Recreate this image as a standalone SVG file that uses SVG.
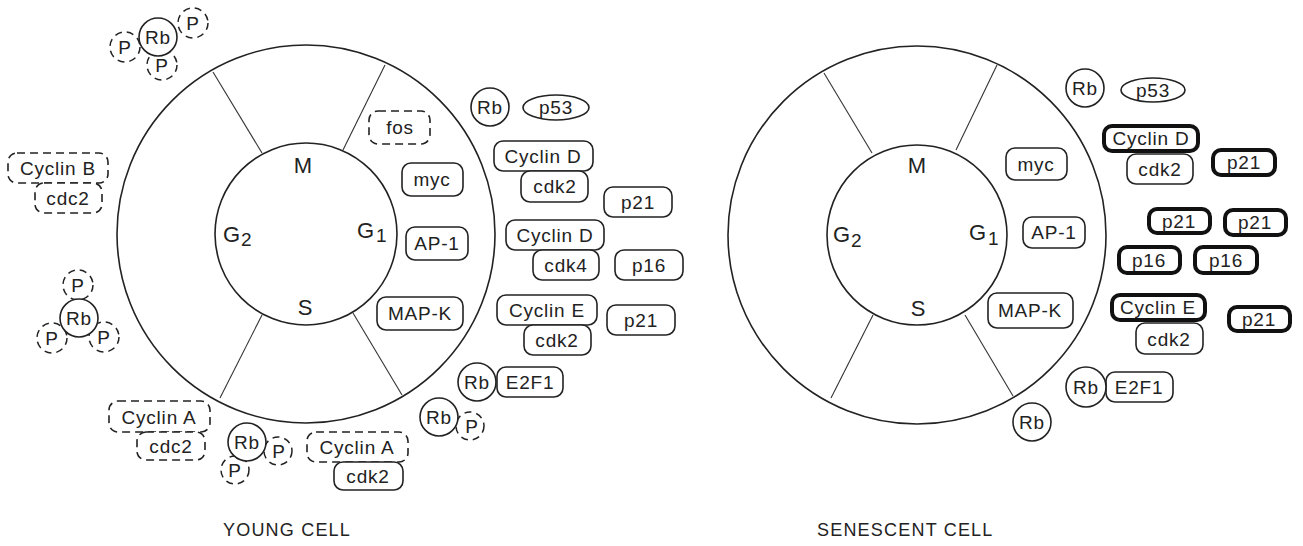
<svg xmlns="http://www.w3.org/2000/svg" width="1303" height="546" viewBox="0 0 1303 546">
<style>
text{font-family:"Liberation Sans",Arial,sans-serif;fill:#222}
.lbl{font-size:19px;letter-spacing:0.8px;text-anchor:middle}
.ph{font-size:22px}
.sub{font-size:19px}
.ttl{font-size:18px;letter-spacing:1.2px}
.ring{fill:none;stroke:#222;stroke-width:1.6}
.spk{stroke:#333;stroke-width:1.1}
.box{fill:#fff;stroke:#222;stroke-width:1.6}
.dash{fill:#fff;stroke:#222;stroke-width:1.6;stroke-dasharray:8 5}
.thick{fill:#fff;stroke:#111;stroke-width:4}
.pc{fill:#fff;stroke:#222;stroke-width:1.5;stroke-dasharray:7 5}
</style>
<rect width="1303" height="546" fill="#fff"/>

<g id="young-wheel">
<circle class="ring" cx="306" cy="234" r="189"/>
<circle class="ring" cx="306" cy="234" r="91"/>
<line class="spk" x1="213" y1="72" x2="262" y2="153"/>
<line class="spk" x1="385" y1="65" x2="343" y2="150"/>
<line class="spk" x1="262" y1="315" x2="220" y2="398"/>
<line class="spk" x1="353" y1="313" x2="402" y2="395"/>
<text class="ph" x="303" y="173" text-anchor="middle">M</text>
<text class="ph" x="223" y="242">G<tspan class="sub" x="241" y="246">2</tspan></text>
<text class="ph" x="357" y="238">G<tspan class="sub" x="376" y="242">1</tspan></text>
<text class="ph" x="305" y="315" text-anchor="middle">S</text>
</g>

<g id="senescent-wheel">
<circle class="ring" cx="917" cy="235" r="189"/>
<circle class="ring" cx="917" cy="235" r="90"/>
<line class="spk" x1="824" y1="73" x2="872" y2="153"/>
<line class="spk" x1="997" y1="65" x2="956" y2="150"/>
<line class="spk" x1="873" y1="315" x2="831" y2="398"/>
<line class="spk" x1="965" y1="315" x2="1013" y2="396"/>
<text class="ph" x="917" y="173" text-anchor="middle">M</text>
<text class="ph" x="833" y="242">G<tspan class="sub" x="851" y="247">2</tspan></text>
<text class="ph" x="969" y="240">G<tspan class="sub" x="988" y="245">1</tspan></text>
<text class="ph" x="918" y="316" text-anchor="middle">S</text>
</g>

<g id="connectors"></g>

<!-- Young cell nodes -->
<g id="y-rb-ppp-top">
<circle class="pc" cx="125" cy="47" r="15"/><text class="lbl" x="125" y="54">P</text>
<circle class="pc" cx="193" cy="23" r="15"/><text class="lbl" x="193" y="30">P</text>
<circle class="pc" cx="162" cy="65" r="15"/><text class="lbl" x="162" y="72">P</text>
<circle class="box" cx="158" cy="37" r="19"/><text class="lbl" x="158" y="44">Rb</text>
</g>
<g id="y-cyclinB"><rect class="dash" x="8" y="153" width="100" height="30" rx="9"/><text class="lbl" x="58" y="175">Cyclin B</text></g>
<g id="y-cdc2-b"><rect class="dash" x="35" y="183" width="67" height="30" rx="9"/><text class="lbl" x="68" y="205">cdc2</text></g>
<g id="y-rb-ppp-left">
<circle class="pc" cx="78" cy="285" r="15"/><text class="lbl" x="78" y="292">P</text>
<circle class="pc" cx="52" cy="338" r="15"/><text class="lbl" x="52" y="345">P</text>
<circle class="pc" cx="104" cy="337" r="15"/><text class="lbl" x="104" y="344">P</text>
<circle class="box" cx="79" cy="318" r="19"/><text class="lbl" x="79" y="325">Rb</text>
</g>
<g id="y-cyclinA-left"><rect class="dash" x="109" y="401" width="101" height="31" rx="9"/><text class="lbl" x="159" y="424">Cyclin A</text></g>
<g id="y-cdc2-a"><rect class="dash" x="137" y="432" width="68" height="28" rx="9"/><text class="lbl" x="171" y="453">cdc2</text></g>
<g id="y-rb-pp-bottom">
<circle class="pc" cx="278" cy="451" r="14"/><text class="lbl" x="279" y="458">P</text>
<circle class="pc" cx="235" cy="470" r="14"/><text class="lbl" x="235" y="477">P</text>
<circle class="box" cx="247" cy="442" r="19"/><text class="lbl" x="247" y="449">Rb</text>
</g>
<g id="y-cyclinA-right"><rect class="dash" x="307" y="432" width="101" height="30" rx="9"/><text class="lbl" x="357" y="454">Cyclin A</text></g>
<g id="y-cdk2-a"><rect class="box" x="334" y="462" width="69" height="28" rx="9"/><text class="lbl" x="368" y="483">cdk2</text></g>
<g id="y-fos"><rect class="dash" x="369" y="111" width="61" height="33" rx="9"/><text class="lbl" x="400" y="134">fos</text></g>
<g id="y-myc"><rect class="box" x="402" y="163" width="61" height="33" rx="9"/><text class="lbl" x="432" y="186">myc</text></g>
<g id="y-ap1"><rect class="box" x="406" y="227" width="62" height="33" rx="9"/><text class="lbl" x="437" y="250">AP-1</text></g>
<g id="y-mapk"><rect class="box" x="377" y="297" width="86" height="33" rx="9"/><text class="lbl" x="420" y="320">MAP-K</text></g>
<g id="y-rb1"><circle class="box" cx="490" cy="107" r="19"/><text class="lbl" x="490" y="114">Rb</text></g>
<g id="y-p53"><ellipse class="box" cx="556" cy="107.5" rx="33" ry="12.5"/><text class="lbl" x="556" y="114">p53</text></g>
<g id="y-cyclinD1"><rect class="box" x="494" y="141" width="99" height="30" rx="9"/><text class="lbl" x="543" y="163">Cyclin D</text></g>
<g id="y-cdk2-d"><rect class="box" x="521" y="171" width="67" height="31" rx="9"/><text class="lbl" x="555" y="193">cdk2</text></g>
<g id="y-p21-1"><rect class="box" x="604" y="187" width="68" height="30" rx="9"/><text class="lbl" x="638" y="209">p21</text></g>
<g id="y-cyclinD2"><rect class="box" x="506" y="220" width="98" height="30" rx="9"/><text class="lbl" x="555" y="242">Cyclin D</text></g>
<g id="y-cdk4"><rect class="box" x="533" y="250" width="66" height="30" rx="9"/><text class="lbl" x="566" y="272">cdk4</text></g>
<g id="y-p16"><rect class="box" x="615" y="250" width="68" height="30" rx="9"/><text class="lbl" x="649" y="272">p16</text></g>
<g id="y-cyclinE"><rect class="box" x="497" y="295" width="100" height="30" rx="9"/><text class="lbl" x="547" y="317">Cyclin E</text></g>
<g id="y-cdk2-e"><rect class="box" x="524" y="325" width="67" height="30" rx="9"/><text class="lbl" x="557" y="347">cdk2</text></g>
<g id="y-p21-2"><rect class="box" x="607" y="305" width="68" height="30" rx="9"/><text class="lbl" x="641" y="327">p21</text></g>
<g id="y-e2f1"><rect class="box" x="497" y="367" width="66" height="30" rx="9"/><text class="lbl" x="530" y="389">E2F1</text></g>
<g id="y-rb-e2f1"><circle class="box" cx="477" cy="382" r="19"/><text class="lbl" x="477" y="389">Rb</text></g>
<g id="y-rb-p">
<circle class="pc" cx="470" cy="426" r="14"/><text class="lbl" x="472" y="433">P</text>
<circle class="box" cx="439" cy="417" r="19"/><text class="lbl" x="439" y="424">Rb</text>
</g>

<!-- Senescent cell nodes -->
<g id="s-myc"><rect class="box" x="1006" y="148" width="61" height="32" rx="9"/><text class="lbl" x="1036" y="171">myc</text></g>
<g id="s-ap1"><rect class="box" x="1023" y="217" width="62" height="31" rx="9"/><text class="lbl" x="1054" y="239">AP-1</text></g>
<g id="s-mapk"><rect class="box" x="988" y="293" width="85" height="35" rx="9"/><text class="lbl" x="1030" y="317">MAP-K</text></g>
<g id="s-rb1"><circle class="box" cx="1085" cy="88" r="19"/><text class="lbl" x="1085" y="95">Rb</text></g>
<g id="s-p53"><ellipse class="box" cx="1153" cy="90" rx="32" ry="12"/><text class="lbl" x="1153" y="97">p53</text></g>
<g id="s-cdk2-d"><rect class="box" x="1127" y="154" width="66" height="30" rx="9"/><text class="lbl" x="1160" y="176">cdk2</text></g>
<g id="s-cyclinD"><rect class="thick" x="1104" y="126" width="94" height="25" rx="8"/><text class="lbl" x="1151" y="145">Cyclin D</text></g>
<g id="s-p21-1"><rect class="thick" x="1213" y="150" width="62" height="25" rx="8"/><text class="lbl" x="1244" y="169">p21</text></g>
<g id="s-p21-2"><rect class="thick" x="1149" y="209" width="61" height="24" rx="8"/><text class="lbl" x="1179" y="228">p21</text></g>
<g id="s-p21-3"><rect class="thick" x="1225" y="210" width="61" height="25" rx="8"/><text class="lbl" x="1255" y="229">p21</text></g>
<g id="s-p16-1"><rect class="thick" x="1119" y="247" width="61" height="26" rx="8"/><text class="lbl" x="1149" y="267">p16</text></g>
<g id="s-p16-2"><rect class="thick" x="1195" y="247" width="62" height="26" rx="8"/><text class="lbl" x="1226" y="267">p16</text></g>
<g id="s-cdk2-e"><rect class="box" x="1136" y="323" width="67" height="31" rx="9"/><text class="lbl" x="1169" y="346">cdk2</text></g>
<g id="s-cyclinE"><rect class="thick" x="1112" y="295" width="93" height="25" rx="8"/><text class="lbl" x="1158" y="314">Cyclin E</text></g>
<g id="s-p21-4"><rect class="thick" x="1229" y="307" width="61" height="24" rx="8"/><text class="lbl" x="1259" y="326">p21</text></g>
<g id="s-e2f1"><rect class="box" x="1106" y="372" width="67" height="30" rx="9"/><text class="lbl" x="1139" y="394">E2F1</text></g>
<g id="s-rb-e2f1"><circle class="box" cx="1086" cy="387" r="20"/><text class="lbl" x="1086" y="394">Rb</text></g>
<g id="s-rb2"><circle class="box" cx="1032" cy="422" r="19"/><text class="lbl" x="1032" y="429">Rb</text></g>

<g id="titles">
<text class="ttl" x="223" y="536">YOUNG CELL</text>
<text class="ttl" x="817" y="536">SENESCENT CELL</text>
</g>
</svg>
